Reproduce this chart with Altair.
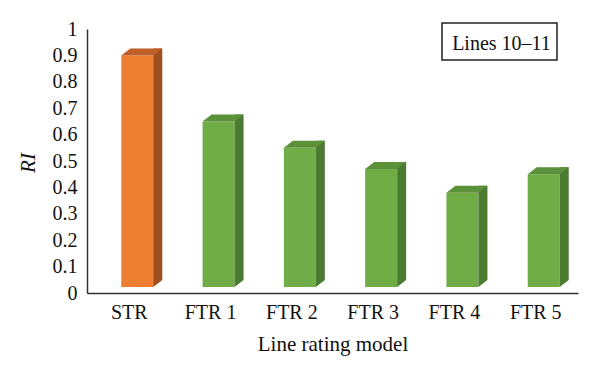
import altair as alt
import pandas as pd

# ---- data ----
categories = ["STR", "FTR 1", "FTR 2", "FTR 3", "FTR 4", "FTR 5"]
ri_values = [0.90, 0.65, 0.55, 0.47, 0.38, 0.45]
groups = ["Static" if c == "STR" else "Forecast" for c in categories]
y_ticks = [0, 0.1, 0.2, 0.3, 0.4, 0.5, 0.6, 0.7, 0.8, 0.9, 1]
x_title = "Line rating model"
y_title = "RI"
box_label = ["Lines 10–11"]

df = pd.DataFrame({"model": categories, "RI": ri_values, "group": groups})

FONT = "Liberation Serif"
group_domain = ["Static", "Forecast"]

x_enc = alt.X(
    "model:N",
    sort=categories,
    scale=alt.Scale(paddingInner=0, paddingOuter=0.02),
    axis=alt.Axis(
        title=x_title, labelAngle=0, ticks=False, labelPadding=9,
        labelFontSize=20, titleFontSize=21, titleY=57,
        titleBaseline="alphabetic", titleFontWeight="normal",
    ),
)

y_axis = alt.Axis(
    values=y_ticks, format="~g", grid=False, ticks=False, labelPadding=10,
    labelFontSize=20, title=y_title, titleFontStyle="italic",
    titleFontWeight="normal", titleFontSize=21, titleAngle=-90,
    titleX=-52.5, titleY=133.5, titleAlign="center",
    titleBaseline="alphabetic",
)
y_scale = alt.Scale(domain=[0, 1], nice=False)


def col(rng):
    return alt.Color("group:N", scale=alt.Scale(domain=group_domain, range=rng), legend=None)


base = alt.Chart(df)

front = base.mark_bar(width=32, xOffset=8, y2Offset=-6).encode(
    x=x_enc,
    y=alt.Y("RI:Q", scale=y_scale, axis=y_axis),
    y2=alt.Y2(datum=0),
    color=col(["#ED7D31", "#70AD47"]),
)

side = base.mark_bar(width=9, xOffset=28.5, yOffset=-7, y2Offset=-13).encode(
    x=x_enc,
    y=alt.Y("RI:Q", scale=y_scale, axis=y_axis),
    y2=alt.Y2(datum=0),
    color=col(["#9E4E1F", "#4B7A31"]),
)

side_foot = base.transform_calculate(base0="0").mark_point(
    shape="M24,-6L24,-13L33,-13Z", size=4, filled=True, opacity=1, strokeWidth=0
).encode(
    x=x_enc,
    y=alt.Y("base0:Q", scale=y_scale, axis=y_axis),
    color=col(["#9E4E1F", "#4B7A31"]),
)

top = base.mark_point(
    shape="M-8,0L24,0L33,-7L1,-7Z", size=4, filled=True, opacity=1, strokeWidth=0
).encode(
    x=x_enc,
    y=alt.Y("RI:Q", scale=y_scale, axis=y_axis),
    color=col(["#C05F25", "#5B9139"]),
)

box_df = pd.DataFrame({"label": box_label})
box = alt.Chart(box_df).mark_rect(fill="white", stroke="#222222", strokeWidth=1.5).encode(
    x=alt.value(355), x2=alt.value(470), y=alt.value(-6), y2=alt.value(31)
)
box_text = alt.Chart(box_df).mark_text(
    font=FONT, fontSize=20, align="center", baseline="alphabetic", color="#111111"
).encode(x=alt.value(414.5), y=alt.value(21), text="label:N")

chart = (
    alt.layer(front, side, side_foot, top, box, box_text)
    .resolve_scale(color="independent")
    .properties(
        width=491,
        height=264,
        autosize=alt.AutoSizeParams(type="none"),
        padding={"left": 79, "top": 21, "right": 12, "bottom": 70},
    )
    .configure_view(stroke=None)
    .configure_axis(
        labelFont=FONT, titleFont=FONT, labelColor="#111111", titleColor="#111111",
        domainColor="#333333", domainWidth=1.5,
    )
)

chart.save("out.html", embed_options={"renderer": "svg", "actions": False})
